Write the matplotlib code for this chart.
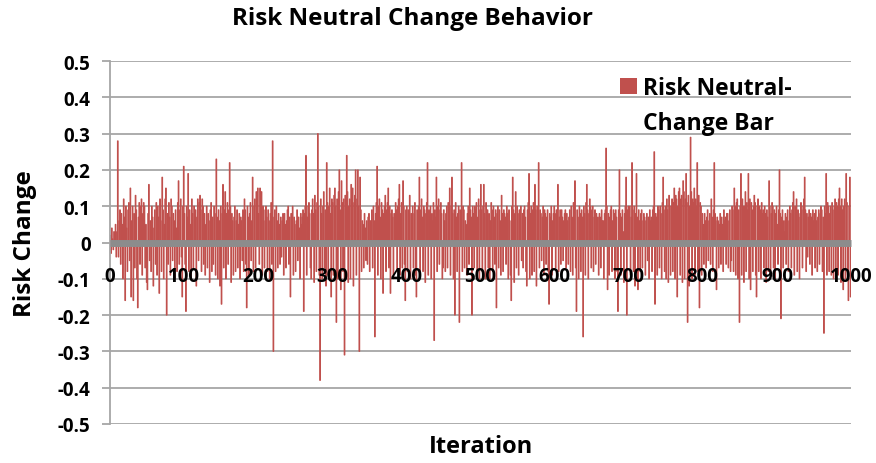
import matplotlib
matplotlib.use("Agg")
import matplotlib.pyplot as plt
from matplotlib.patches import Patch
import numpy as np

# Risk change per iteration, in hundredths (blocks of 100 iterations)
seg_0 = [2, -3, 4, 1, -2, 3, -1, 5, -4, 3, 28, -4, 6, 9, -6, 8, 5, -10, 12, 7,
         -16, 10, 4, -8, 9, 11, -5, 15, -15, 6, 10, -16, 8, -7, 13, 9, -10, -18, 7, 11,
         -6, 10, 12, -9, 8, 11, 10, -7, 5, -11, -13, 8, 16, -5, 6, -8, 10, 7, -12, 4,
         9, -6, 11, -9, 10, 7, -14, 12, 6, -8, 18, 9, -10, 5, 12, 15, -20, 8, -6, 11,
         7, -9, 12, 10, -5, 8, 6, -10, 9, 4, -8, 11, 17, -6, 9, 12, -4, -15, 10, 21]
seg_1 = [8, -6, -19, 10, 7, 19, -8, 9, 5, -10, 12, 8, -7, 10, 6, 9, -12, 7, 12, -5,
         11, 13, 9, -8, 12, 10, -6, 8, -9, 5, 10, -7, 8, 6, -11, 9, 11, -8, 7, -6,
         10, 8, -9, 23, 7, -10, 9, 6, -12, 10, -17, 8, 16, -7, 9, 14, -10, 8, 11, -6,
         9, 22, 10, -11, 8, 6, -9, 7, 10, -8, 6, 9, -7, 5, 8, -10, 7, 6, -5, 9,
         -8, 12, 9, -6, -18, 10, 7, -9, 8, 11, -5, 6, 18, -8, 10, 12, -7, 14, 9, 15]
seg_2 = [8, -6, 15, 10, 14, -9, 10, 6, -7, 9, 10, 7, -8, 9, 6, -10, 8, 11, -6, 28,
         -30, 7, 9, -8, 10, 6, -7, 8, 5, -6, 7, -4, 6, 8, -9, 8, 5, -7, 6, 9,
         10, -6, 7, -15, 8, 6, 10, -9, 7, 5, -8, 6, 9, -5, 7, 4, -10, 8, 5, 7,
         9, -19, 8, 10, 24, -9, 7, 10, 11, 8, -7, -10, 9, 12, 8, -11, 13, 9, -8, 11,
         30, 10, -9, -38, 12, 8, -10, 10, 14, -7, 9, -12, 22, 11, -9, 10, 15, 8, -15, 12]
seg_3 = [11, -9, 13, 15, 10, -22, 12, -10, 14, 20, 9, -13, 17, 11, -8, 12, -31, 13, 10, 24,
         14, -11, 10, 12, -10, 16, 9, 15, -12, 11, 13, 20, -9, 12, 20, 10, -30, 18, 9, -8,
         6, 5, -7, 8, 4, -5, 6, -6, 7, 8, -8, 6, 5, 9, -7, 10, 6, -26, 8, 11,
         21, -9, 10, 12, 7, -10, 11, 9, -14, 8, 10, 13, -8, 9, 11, 15, -7, 10, -14, 8,
         9, 7, -10, 8, 6, 11, 9, -8, 10, 12, 16, -9, 8, 11, -7, 17, 10, -6, -16, 9]
seg_4 = [10, -8, 9, 7, 13, -10, 8, 6, 10, -7, 8, 11, -9, -15, 9, 7, 10, 18, -8, 9,
         12, 7, -8, 10, 9, -11, 8, 11, 22, -9, 9, 7, 10, -10, 8, 6, 11, -27, 9, 7,
         18, -8, 10, 12, -6, 9, 11, 8, -10, -7, 9, 6, -8, 8, 10, -7, 11, 7, 15, -9,
         10, 18, 8, -10, 9, -20, 11, 7, -8, 8, 10, -22, 9, 7, 22, -8, 10, 9, -7, 6,
         5, -9, 8, 10, -6, 15, 9, 7, -20, 10, 8, -7, 10, 9, 11, -8, 7, 12, -10, 9]
seg_5 = [16, 9, -8, 10, 16, 8, -10, 11, 7, 9, -7, 8, -10, 6, 11, 9, -8, 10, 7, -6,
         9, -18, 8, 10, -7, 9, 6, -9, 13, 8, -8, 9, 8, 7, -6, 10, 8, -10, 9, 6,
         -9, -16, 10, 18, 9, -11, 8, 14, -7, 10, 8, -9, 9, 7, 10, -5, 8, -7, 9, 10,
         7, -8, -12, 9, 11, 19, -10, 8, 10, -9, 9, 11, -8, 16, 9, -12, 10, 8, 22, -7,
         9, 8, -5, 7, 10, -9, 9, 8, -6, 7, 9, -8, -17, 8, 7, 10, -9, 6, 8, 10]
seg_6 = [8, -7, 9, 6, 16, -8, 7, 9, -6, 9, 7, -5, 6, 8, 9, -7, 8, 6, -6, 7,
         9, -8, 10, 7, -9, 11, 8, 17, -7, -19, 9, 7, -10, 10, 8, -8, 9, 7, -26, 10,
         8, -9, 11, 16, 9, -10, 8, 12, 10, -7, 9, 10, -8, 7, 9, -6, 8, 6, 7, -9,
         8, 7, -7, 9, 6, 6, -10, 8, 9, 26, 10, -13, 8, -9, 7, 9, 10, -8, 6, 9,
         8, -10, 9, 7, -8, -19, 9, 20, 8, -9, 7, 9, 3, -11, 8, 10, 18, -20, 9, 10]
seg_7 = [8, 10, -9, 7, 22, 9, -8, 10, -12, 8, 19, 7, -13, 9, 6, -8, 8, 9, -7, 6,
         8, 7, -9, 6, 8, -5, 7, -10, 9, 6, 7, -8, 9, 10, 25, -17, 8, 7, -9, 10,
         9, -7, 10, 8, -10, 11, 18, 9, -8, 10, -10, 12, 9, -11, 13, 10, -9, 10, 12, -8,
         11, 15, -10, 13, 12, -15, 10, 14, 15, -9, 12, 13, -11, 17, 14, -10, 12, 19, 11, -22,
         13, -12, 10, 29, 14, -10, 12, 11, 15, -9, 12, 10, 22, -8, 13, -18, 11, 10, -9, 8]
seg_8 = [5, -6, 8, 6, -7, 7, 9, -5, 6, 8, -6, 12, 7, -8, 9, 22, 8, 6, -13, 7,
         6, -7, 5, 8, -6, 7, 5, -8, 9, 6, 7, -6, 8, 8, -7, 6, 9, -8, -5, 10,
         9, -8, 15, 10, -9, 11, 12, -10, 9, -22, 10, 19, -9, 12, 10, -11, 10, 14, -8, 11,
         9, 19, -10, 12, -13, 11, 9, -8, 10, 13, 11, -9, -15, 10, 12, -8, 10, 9, -10, 11,
         8, 9, -7, 10, 8, -11, 9, 7, -8, 17, 10, -9, 8, 11, 10, -7, 9, -10, 8, 10]
seg_9 = [5, -6, 9, 20, 8, -21, 7, 9, -7, 6, 3, 8, -6, 7, 9, -8, 6, 10, 8, -7,
         9, 11, 14, -9, 10, 8, 12, -8, 9, 7, -10, 8, 11, 9, -7, 10, 12, 18, 9, -8,
         8, -4, 7, 9, -6, 8, 7, -9, 9, 6, 8, -7, 9, 6, -8, 7, 9, -6, 8, 10,
         9, -8, 7, -25, 10, 8, 19, -9, 11, 10, -8, 8, 10, -9, 11, 9, -10, 10, 12, -8,
         11, 10, -9, 12, 15, 10, -11, 12, 9, -13, 10, 12, -10, 19, 11, -9, -16, 10, 18, -15]

xtick_values = [0, 100, 200, 300, 400, 500, 600, 700, 800, 900, 1000]
xtick_labels = ["0", "100", "200", "300", "400", "500", "600", "700", "800", "900", "1000"]
ytick_values = [-0.5, -0.4, -0.3, -0.2, -0.1, 0.0, 0.1, 0.2, 0.3, 0.4, 0.5]
ytick_labels = ["-0.5", "-0.4", "-0.3", "-0.2", "-0.1", "0", "0.1", "0.2", "0.3", "0.4", "0.5"]
series_name = ["Risk Neutral-", "Change Bar"]

values = np.array(seg_0 + seg_1 + seg_2 + seg_3 + seg_4 + seg_5 + seg_6 + seg_7 + seg_8 + seg_9) / 100.0
iterations = np.arange(1, len(values) + 1)

FONT = ["Open Sans", "DejaVu Sans"]
plt.rcParams["font.family"] = FONT
plt.rcParams["font.weight"] = "bold"

W, H = 876, 464
fig = plt.figure(figsize=(W / 100, H / 100), dpi=100)
fig.patch.set_facecolor("white")

left, right, top, bottom = 110, 851, 62, 425
ax = fig.add_axes([left / W, 1 - bottom / H, (right - left) / W, (bottom - top) / H])

RED = "#c0504d"
ax.bar(iterations - 0.5, values, width=1.0, color=RED, edgecolor=RED,
       linewidth=0.7, zorder=1, snap=False)

ax.set_xlim(0, 1000)
ax.set_ylim(-0.5, 0.5)
ax.set_axisbelow(True)
ax.yaxis.grid(True, color="#a6a6a6", linewidth=1.3)
ax.xaxis.grid(False)
ax.xaxis.set_zorder(3.5)  # x tick labels drawn over the bars

for s in ["top", "right"]:
    ax.spines[s].set_visible(False)
ax.spines["bottom"].set_position(("data", 0))
ax.spines["bottom"].set_color("#8c8c8c")
ax.spines["bottom"].set_linewidth(5.0)
ax.spines["bottom"].set_capstyle("butt")
ax.spines["bottom"].set_zorder(3)
ax.spines["left"].set_color("#a6a6a6")
ax.spines["left"].set_linewidth(1.3)

ax.set_yticks(ytick_values)
ax.set_yticklabels(ytick_labels)
ax.set_xticks(xtick_values)
ax.set_xticklabels(xtick_labels)
ax.tick_params(axis="y", direction="out", length=6, width=1.3, color="#a6a6a6",
               pad=8, labelsize=13.5)
ax.tick_params(axis="x", length=0, pad=17, labelsize=13.5)
for lab in ax.get_xticklabels() + ax.get_yticklabels():
    lab.set_fontweight("bold")

ax.set_ylabel("Risk Change", fontsize=17.5, fontweight="bold", va="center")
ax.yaxis.set_label_coords(-0.115, 0.5)
ax.set_xlabel("Iteration", fontsize=17, fontweight="bold", va="center")
ax.xaxis.set_label_coords(0.5, -0.06)

fig.text(413 / W, 1 - 19 / H, "Risk Neutral Change Behavior", ha="center", va="center",
         fontsize=17.5, fontweight="bold")

handles = [Patch(facecolor=RED, edgecolor="none"), Patch(facecolor="none", edgecolor="none")]
leg = ax.legend(handles, series_name, loc="upper left",
                bbox_to_anchor=(620 / W, 1 - 77 / H), bbox_transform=fig.transFigure,
                frameon=False, fontsize=16.5, handlelength=0.72, handleheight=0.72,
                handletextpad=0.3, labelspacing=0.5, borderpad=0, borderaxespad=0)
for t in leg.get_texts():
    t.set_fontweight("bold")

fig.savefig("out.png", dpi=100, facecolor="white")
